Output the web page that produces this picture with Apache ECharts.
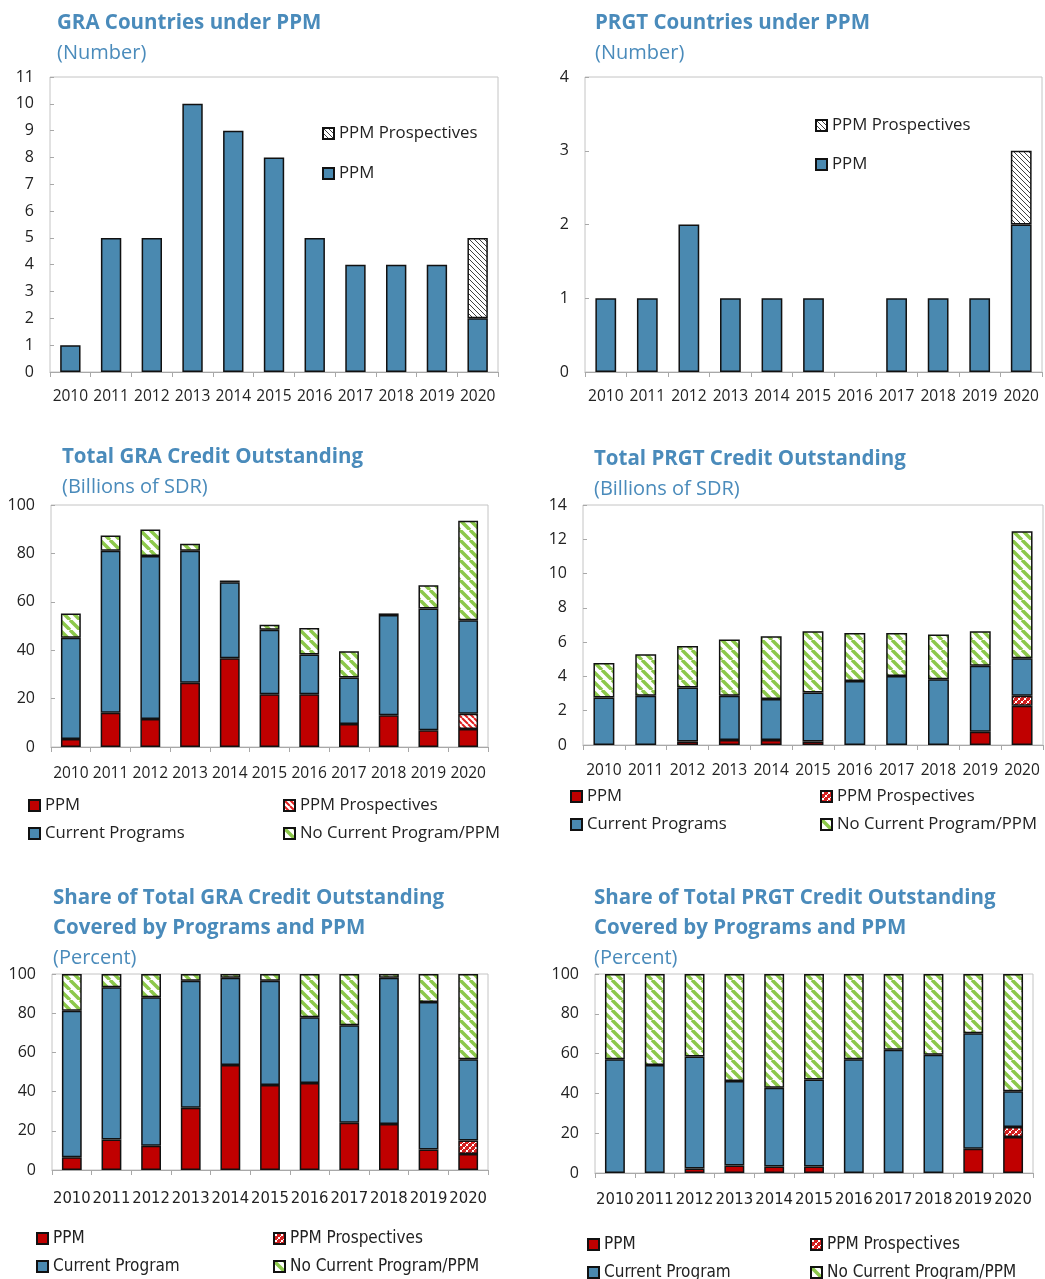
<!DOCTYPE html>
<html>
<head>
<meta charset="utf-8">
<title>PPM charts</title>
<script src="https://cdn.jsdelivr.net/npm/echarts/dist/echarts.min.js"></script>
<style>
  html,body{margin:0;background:#fff;overflow:hidden;}
  .panel{position:absolute;}
</style>
</head>
<body>
<div id="p1" class="panel" style="left:0;top:0;width:522px;height:425px"></div>
<div id="p2" class="panel" style="left:522px;top:0;width:523px;height:425px"></div>
<div id="p3" class="panel" style="left:0;top:430px;width:522px;height:440px"></div>
<div id="p4" class="panel" style="left:522px;top:430px;width:523px;height:440px"></div>
<div id="p5" class="panel" style="left:0;top:870px;width:522px;height:409px"></div>
<div id="p6" class="panel" style="left:522px;top:860px;width:523px;height:440px"></div>
<script type="text/javascript">
	var years = ['2010','2011','2012','2013','2014','2015','2016','2017','2018','2019','2020'];

	// countries under PPM (number)
	var graCountPPM   = [1,5,5,10,9,8,5,4,4,4,2];
	var graCountProsp = [null,null,null,null,null,null,null,null,null,null,3];
	var prgtCountPPM   = [1,1,2,1,1,1,null,1,1,1,2];
	var prgtCountProsp = [null,null,null,null,null,null,null,null,null,null,1];

	// total credit outstanding (billions of SDR)
	var graCredPPM   = [3.3,14.2,11.6,26.6,36.7,21.8,21.8,9.5,13.1,6.9,7.4];
	var graCredProsp = [null,null,null,null,null,null,null,null,null,null,6.3];
	var graCredCur   = [41.8,66.9,67.3,54.5,31.4,26.6,16.4,19.2,41.4,50.3,38.7];
	var graCredNone  = [10.1,6.3,11.0,2.9,0.7,2.1,11.0,10.9,0.7,9.6,41.1];

	var prgtCredPPM   = [null,null,0.21,0.29,0.29,0.21,null,null,null,0.78,2.29];
	var prgtCredProsp = [null,null,null,null,null,null,null,null,null,null,0.58];
	var prgtCredCur   = [2.77,2.87,3.14,2.58,2.39,2.85,3.74,4.03,3.84,3.84,2.19];
	var prgtCredNone  = [2.02,2.42,2.43,3.28,3.66,3.57,2.79,2.50,2.60,2.01,7.41];

	// share of credit outstanding (percent)
	var graSharePPM   = [6.5,15.6,12.4,31.8,53.6,43.4,44.4,24.1,23.5,10.5,8.2];
	var graShareProsp = [null,null,null,null,null,null,null,null,null,null,6.8];
	var graShareCur   = [74.8,77.6,75.7,64.8,44.5,53.2,33.5,49.7,74.6,75.2,41.5];
	var graShareNone  = [18.7,6.8,11.9,3.4,1.9,3.4,22.1,26.2,1.9,14.3,43.5];

	var prgtSharePPM   = [null,null,2.2,3.8,3.3,3.3,null,null,null,12.2,18.1];
	var prgtShareProsp = [null,null,null,null,null,null,null,null,null,null,5.0];
	var prgtShareCur   = [57.2,54.3,56.3,42.4,39.5,43.7,57.2,61.9,59.4,58.0,18.0];
	var prgtShareNone  = [42.8,45.7,41.5,53.8,57.2,53.0,42.8,38.1,40.6,29.8,58.9];

	var BLUE = '#4a89b0', RED = '#c00000', GREEN = '#8cc84b', TITLE = '#4a8bbb';
	var FONT = "'Open Sans', 'Noto Sans', sans-serif";
	var NARROW = "'Liberation Sans Narrow', 'DejaVu Sans Condensed', sans-serif";

	// diagonal "\" stripes
	function stripes(bg, fg, size, lw){
		var c = document.createElement('canvas');
		c.width = size; c.height = size;
		var g = c.getContext('2d');
		g.fillStyle = bg; g.fillRect(0,0,size,size);
		g.strokeStyle = fg; g.lineWidth = lw;
		g.beginPath();
		for(var k=-1;k<=1;k++){
			g.moveTo(k*size,0); g.lineTo(k*size+size,size);
		}
		g.stroke();
		return {image:c, repeat:'repeat'};
	}

	function checks(){
		var c = document.createElement('canvas');
		c.width = 6; c.height = 6;
		var g = c.getContext('2d');
		g.fillStyle = '#d42020'; g.fillRect(0,0,6,6);
		g.fillStyle = '#ffffff';
		g.fillRect(1,1,2,2); g.fillRect(4,4,2,2);
		g.fillRect(0,3,1,1); g.fillRect(3,0,1,1);
		return {image:c, repeat:'repeat'};
	}

	var greyHatch = stripes('#ffffff','#404040',5,1);
	var greenStripe = stripes('#ffffff',GREEN,10,3.5);
	var redStripe = stripes('#ffffff','#e02020',6,2);

	function bar(name, data, color){
		return {
			name: name, type: 'bar', stack: 's', data: data, barWidth: '50%',
			itemStyle: {color: color, borderColor: '#111', borderWidth: 1.5}
		};
	}

	function legend(left, top, names, gap, font, size){
		return {
			orient: 'vertical', left: left, top: top, data: names, padding: 0,
			itemGap: gap, itemWidth: 11, itemHeight: 11, icon: 'rect', selectedMode: false,
			textStyle: {fontFamily: font, fontSize: size, color: '#222', lineHeight: 16}
		};
	}

	function makeChart(id, p){
		var chart = echarts.init(document.getElementById(id));
		chart.setOption({
			animation: false,
			title: {
				text: p.title, subtext: p.sub, left: p.titleLeft, top: p.titleTop, padding: 0, itemGap: 0,
				textStyle: {fontFamily: FONT, fontSize: 20.5, fontWeight: 'bold', color: TITLE, lineHeight: 30},
				subtextStyle: {fontFamily: FONT, fontSize: 20, color: TITLE, lineHeight: 30}
			},
			grid: {
				left: p.grid[0], top: p.grid[1], width: p.grid[2], height: p.grid[3],
				show: true, borderColor: '#c4c4c4', borderWidth: 1
			},
			legend: p.legend,
			xAxis: {
				type: 'category', data: years,
				axisLine: {lineStyle: {color: '#a8a8a8'}},
				axisTick: {show: true, length: 5, lineStyle: {color: '#a8a8a8'}},
				axisLabel: {interval: 0, margin: p.xMargin, fontFamily: p.xFont, fontSize: p.xSize, color: '#222'}
			},
			yAxis: {
				type: 'value', min: 0, max: p.max, interval: p.step,
				axisLine: {show: false},
				axisTick: {show: true, inside: true, length: 4, lineStyle: {color: '#a8a8a8'}},
				splitLine: {show: false},
				axisLabel: {margin: 16, fontFamily: FONT, fontSize: 16, color: '#222'}
			},
			series: p.series
		});
		return chart;
	}

	makeChart('p1', {
		title: 'GRA Countries under PPM', sub: '(Number)', titleLeft: 57, titleTop: 8,
		grid: [50,77,448,295], max: 11, step: 1, xMargin: 17, xFont: FONT, xSize: 15.5,
		legend: [legend(322,125,['PPM Prospectives','PPM'],23,FONT,16.8)],
		series: [bar('PPM', graCountPPM, BLUE), bar('PPM Prospectives', graCountProsp, greyHatch)]
	});

	makeChart('p2', {
		title: 'PRGT Countries under PPM', sub: '(Number)', titleLeft: 73, titleTop: 8,
		grid: [63,77,457,295], max: 4, step: 1, xMargin: 17, xFont: FONT, xSize: 15.5,
		legend: [legend(293,117,['PPM Prospectives','PPM'],22,FONT,16.8)],
		series: [bar('PPM', prgtCountPPM, BLUE), bar('PPM Prospectives', prgtCountProsp, greyHatch)]
	});

	makeChart('p3', {
		title: 'Total GRA Credit Outstanding', sub: '(Billions of SDR)', titleLeft: 62, titleTop: 12,
		grid: [51,75,437,242], max: 100, step: 20, xMargin: 19, xFont: FONT, xSize: 15.5,
		legend: [
			legend(28,367,['PPM','Current Programs'],11,FONT,16.7),
			legend(283,367,['PPM Prospectives','No Current Program/PPM'],11,FONT,16.7)
		],
		series: [
			bar('PPM', graCredPPM, RED),
			bar('PPM Prospectives', graCredProsp, redStripe),
			bar('Current Programs', graCredCur, BLUE),
			bar('No Current Program/PPM', graCredNone, greenStripe)
		]
	});

	makeChart('p4', {
		title: 'Total PRGT Credit Outstanding', sub: '(Billions of SDR)', titleLeft: 72, titleTop: 14,
		grid: [61,75,460,240], max: 14, step: 2, xMargin: 18, xFont: FONT, xSize: 15.5,
		legend: [
			legend(48,358,['PPM','Current Programs'],11,FONT,16.7),
			legend(298,358,['PPM Prospectives','No Current Program/PPM'],11,FONT,16.7)
		],
		series: [
			bar('PPM', prgtCredPPM, RED),
			bar('PPM Prospectives', prgtCredProsp, checks()),
			bar('Current Programs', prgtCredCur, BLUE),
			bar('No Current Program/PPM', prgtCredNone, greenStripe)
		]
	});

	makeChart('p5', {
		title: 'Share of Total GRA Credit Outstanding\nCovered by Programs and PPM', sub: '(Percent)',
		titleLeft: 53, titleTop: 13,
		grid: [52,104,436,196], max: 100, step: 20, xMargin: 20, xFont: NARROW, xSize: 16.5,
		legend: [
			legend(36,360,['PPM','Current Program'],11,NARROW,17),
			legend(273,360,['PPM Prospectives','No Current Program/PPM'],11,NARROW,17)
		],
		series: [
			bar('PPM', graSharePPM, RED),
			bar('PPM Prospectives', graShareProsp, checks()),
			bar('Current Program', graShareCur, BLUE),
			bar('No Current Program/PPM', graShareNone, greenStripe)
		]
	});

	makeChart('p6', {
		title: 'Share of Total PRGT Credit Outstanding\nCovered by Programs and PPM', sub: '(Percent)',
		titleLeft: 72, titleTop: 23,
		grid: [73,114,438,199], max: 100, step: 20, xMargin: 18, xFont: NARROW, xSize: 16.5,
		legend: [
			legend(65,376,['PPM','Current Program'],11,NARROW,17),
			legend(288,376,['PPM Prospectives','No Current Program/PPM'],11,NARROW,17)
		],
		series: [
			bar('PPM', prgtSharePPM, RED),
			bar('PPM Prospectives', prgtShareProsp, checks()),
			bar('Current Program', prgtShareCur, BLUE),
			bar('No Current Program/PPM', prgtShareNone, greenStripe)
		]
	});
</script>
</body>
</html>
